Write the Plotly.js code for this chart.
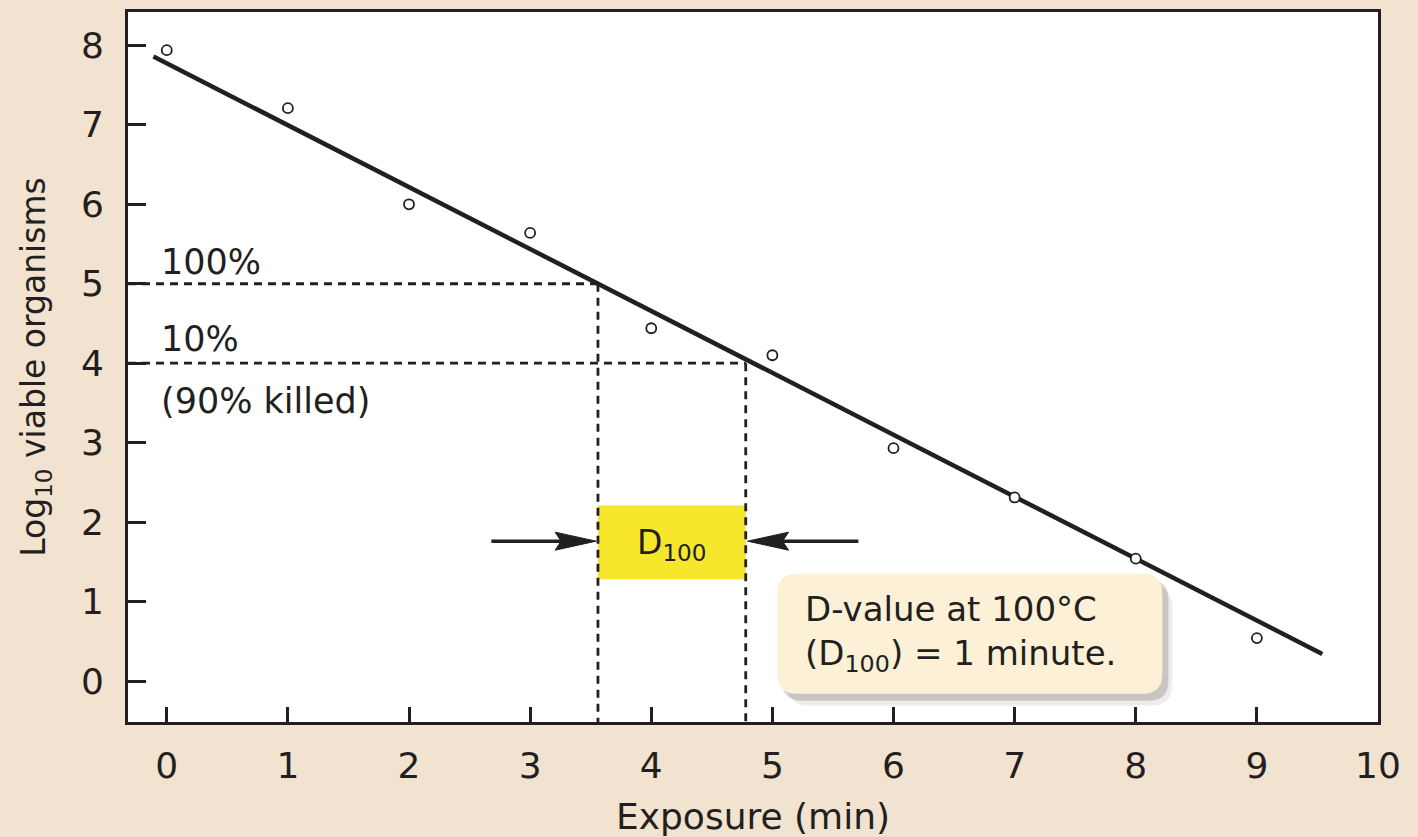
<!DOCTYPE html>
<html>
<head>
<meta charset="utf-8">
<script src="https://cdn.plot.ly/plotly-3.0.1.min.js"></script>
<style>
  html, body { margin: 0; padding: 0; background: #f1e3cf; }
  #chart { width: 1418px; height: 837px; }
</style>
</head>
<body>
<div id="chart"></div>
<script>
// ---- data ----
const exposure = [0, 1, 2, 3, 4, 5, 6, 7, 8, 9];
const logViable = [7.94, 7.21, 6.0, 5.64, 4.44, 4.10, 2.93, 2.31, 1.54, 0.54];
const fitX = [-0.11, 9.54];
const fitY = [7.86, 0.34];
const xTicks = [0, 1, 2, 3, 4, 5, 6, 7, 8, 9, 10];
const yTicks = [0, 1, 2, 3, 4, 5, 6, 7, 8];
const levelHigh = 5;      // 100%
const levelLow = 4;       // 10% (90% killed)
const tHigh = 3.56;       // exposure where curve hits 100% level
const tLow = 4.78;        // exposure where curve hits 10% level
const arrowLeftX = [2.68, 3.30];
const arrowRightX = [5.71, 5.05];
const arrowY = [1.76, 1.76];
const arrowTips = [3.545, 4.795];

const xRange = [-0.32, 10];
const yRange = [-0.516, 8.42];
const ink = '#231f20';
const FONT = 'DejaVu Sans, Liberation Sans, Arial, sans-serif';

// pixel -> data helpers for rounded corners / arrowheads
const plotW = 1418 - 128 - 40, plotH = 837 - 12 - 115;
const pxX = (xRange[1] - xRange[0]) / plotW;
const pxY = (yRange[1] - yRange[0]) / plotH;

function roundRect(x0, x1, y0, y1, r) {
  const rx = r * pxX, ry = r * pxY;
  return `M ${x0 + rx},${y0} L ${x1 - rx},${y0} Q ${x1},${y0} ${x1},${y0 + ry} ` +
         `L ${x1},${y1 - ry} Q ${x1},${y1} ${x1 - rx},${y1} L ${x0 + rx},${y1} ` +
         `Q ${x0},${y1} ${x0},${y1 - ry} L ${x0},${y0 + ry} Q ${x0},${y0} ${x0 + rx},${y0} Z`;
}
// filled arrowhead: tip at (xt, y); dir = +1 points right, -1 points left
function arrowHead(xt, y, dir) {
  const len = 41 * pxX, half = 9 * pxY, notch = 6 * pxX;
  const xb = xt - dir * len;
  return `M ${xt},${y} L ${xb},${y + half} L ${xb + dir * notch},${y} L ${xb},${y - half} Z`;
}

const boxX0 = 5.04, boxX1 = 8.22, boxY0 = -0.16, boxY1 = 1.35;
const dash = { color: ink, width: 2.8, dash: '8px,6px' };

const shapes = [
  // yellow D100 highlight
  { type: 'rect', xref: 'x', yref: 'y', x0: tHigh, x1: tLow, y0: 1.28, y1: 2.21,
    fillcolor: '#f7e72c', line: { width: 0 }, layer: 'below' },
  // shadow of note box
  { type: 'path', xref: 'x', yref: 'y', layer: 'below',
    path: roundRect(boxX0 + 10 * pxX, boxX1 + 10 * pxX, boxY0 - 12 * pxY, boxY1 - 12 * pxY, 22),
    fillcolor: 'rgba(90,80,70,0.10)', line: { width: 0 } },
  { type: 'path', xref: 'x', yref: 'y', layer: 'below',
    path: roundRect(boxX0 + 5 * pxX, boxX1 + 6 * pxX, boxY0 - 7 * pxY, boxY1 - 6 * pxY, 20),
    fillcolor: 'rgba(90,80,70,0.25)', line: { width: 0 } },
  // note box
  { type: 'path', xref: 'x', yref: 'y', layer: 'below',
    path: roundRect(boxX0, boxX1, boxY0, boxY1, 20),
    fillcolor: '#fcf1d6', line: { width: 0 } },
  // dashed reference lines
  { type: 'line', xref: 'x', yref: 'y', x0: xRange[0], x1: tHigh, y0: levelHigh, y1: levelHigh, line: dash, layer: 'above' },
  { type: 'line', xref: 'x', yref: 'y', x0: xRange[0], x1: tLow, y0: levelLow, y1: levelLow, line: dash, layer: 'above' },
  { type: 'line', xref: 'x', yref: 'y', x0: tHigh, x1: tHigh, y0: levelHigh, y1: yRange[0], line: dash, layer: 'above' },
  { type: 'line', xref: 'x', yref: 'y', x0: tLow, x1: tLow, y0: levelLow, y1: yRange[0], line: dash, layer: 'above' },
  // arrowheads
  { type: 'path', xref: 'x', yref: 'y', layer: 'above', path: arrowHead(arrowTips[0], arrowY[0], 1),
    fillcolor: ink, line: { color: ink, width: 1 } },
  { type: 'path', xref: 'x', yref: 'y', layer: 'above', path: arrowHead(arrowTips[1], arrowY[0], -1),
    fillcolor: ink, line: { color: ink, width: 1 } }
];

const textFont = { family: FONT, size: 35, color: ink };

const annotations = [
  { x: -0.06, y: 5.27, xref: 'x', yref: 'y', text: '100%', showarrow: false,
    xanchor: 'left', yanchor: 'middle', font: textFont },
  { x: -0.06, y: 4.31, xref: 'x', yref: 'y', text: '10%', showarrow: false,
    xanchor: 'left', yanchor: 'middle', font: textFont },
  { x: -0.06, y: 3.52, xref: 'x', yref: 'y', text: '(90% killed)', showarrow: false,
    xanchor: 'left', yanchor: 'middle', font: textFont },
  { x: (tHigh + tLow) / 2, y: 1.72, xref: 'x', yref: 'y', text: 'D<sub>100</sub>', showarrow: false,
    xanchor: 'center', yanchor: 'middle', font: { family: FONT, size: 33, color: ink } },
  // note text
  { x: 5.25, y: 0.6, xref: 'x', yref: 'y', text: 'D-value at 100°C<br>(D<sub>100</sub>) = 1 minute.',
    showarrow: false, xanchor: 'left', yanchor: 'middle', align: 'left',
    font: { family: FONT, size: 34, color: ink } }
];

const traces = [
  { x: fitX, y: fitY, type: 'scatter', mode: 'lines',
    line: { color: ink, width: 4.5 }, hoverinfo: 'skip', showlegend: false },
  { x: exposure, y: logViable, type: 'scatter', mode: 'markers',
    marker: { symbol: 'circle', size: 10, color: '#ffffff', line: { color: ink, width: 1.8 } },
    showlegend: false },
  { x: arrowLeftX, y: arrowY, type: 'scatter', mode: 'lines',
    line: { color: ink, width: 3.5 }, hoverinfo: 'skip', showlegend: false },
  { x: arrowRightX, y: arrowY, type: 'scatter', mode: 'lines',
    line: { color: ink, width: 3.5 }, hoverinfo: 'skip', showlegend: false }
];

const layout = {
  width: 1418, height: 837,
  paper_bgcolor: '#f1e3cf',
  plot_bgcolor: '#ffffff',
  margin: { l: 128, r: 40, t: 12, b: 115 },
  showlegend: false,
  font: { family: FONT, color: ink },
  xaxis: {
    range: xRange, tickvals: xTicks, ticktext: xTicks.map(String),
    ticks: 'inside', ticklen: 15, tickwidth: 3, tickcolor: ink,
    showline: true, linecolor: ink, linewidth: 3, mirror: true,
    showgrid: false, zeroline: false,
    tickfont: { family: FONT, size: 36, color: ink }, ticklabelstandoff: 10,
    title: { text: 'Exposure (min)', font: { family: FONT, size: 36, color: ink }, standoff: 24 },
    automargin: false, fixedrange: true
  },
  yaxis: {
    range: yRange, tickvals: yTicks, ticktext: yTicks.map(String),
    ticks: 'inside', ticklen: 18, tickwidth: 3, tickcolor: ink,
    showline: true, linecolor: ink, linewidth: 3, mirror: true,
    showgrid: false, zeroline: false,
    tickfont: { family: FONT, size: 36, color: ink }, ticklabelstandoff: 14,
    title: { text: 'Log<sub>10</sub> viable organisms', font: { family: FONT, size: 33, color: ink }, standoff: 26 },
    automargin: false, fixedrange: true
  },
  shapes: shapes,
  annotations: annotations
};

Plotly.newPlot('chart', traces, layout, { staticPlot: true, displayModeBar: false });
</script>
</body>
</html>
